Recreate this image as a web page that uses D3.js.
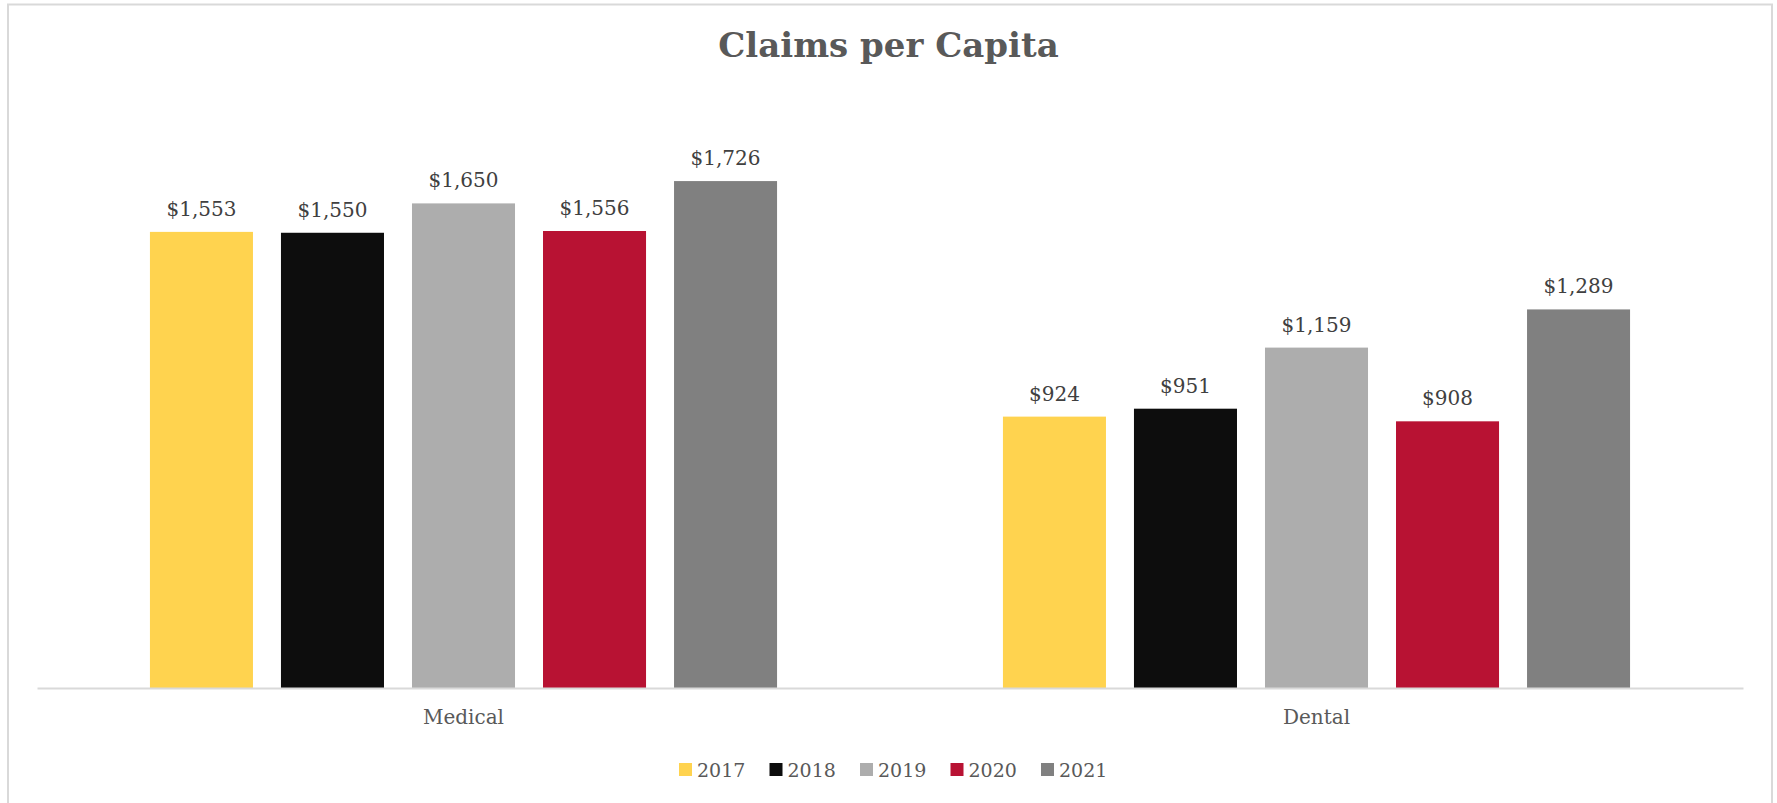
<!DOCTYPE html>
<html>
<head>
<meta charset="utf-8">
<script src="https://cdn.jsdelivr.net/npm/d3@7"></script>
<style>
  html, body { margin: 0; padding: 0; background: #fff; }
  svg { display: block; font-family: Georgia, "DejaVu Serif", "Liberation Serif", serif; }
</style>
</head>
<body>
<svg id="chart"></svg>
<script>
const categories = ["Medical", "Dental"];
const years = ["2017", "2018", "2019", "2020", "2021"];
const medical = [1553, 1550, 1650, 1556, 1726];
const dental = [924, 951, 1159, 908, 1289];
const colors = ["#ffd34f", "#0d0d0d", "#adadad", "#b81233", "#808080"];

const width = 1777;
const height = 803;
const plot = {left: 37, right: 1743, top: 100.6, bottom: 688};

const rows = categories.map((c, i) => ({
  category: c,
  values: years.map((y, j) => ({year: y, value: [medical, dental][i][j]}))
}));

const svg = d3.select("#chart")
  .attr("width", width)
  .attr("height", height);

// chart frame
svg.append("rect")
  .attr("x", 8)
  .attr("y", 4.5)
  .attr("width", 1764)
  .attr("height", 820)
  .attr("fill", "#fff")
  .attr("stroke", "#d9d9d9")
  .attr("stroke-width", 2);

svg.append("text")
  .attr("x", width / 2)
  .attr("y", 57)
  .attr("text-anchor", "middle")
  .attr("font-size", 34)
  .attr("font-weight", "bold")
  .attr("fill", "#595959")
  .text("Claims per Capita");

const x0 = d3.scaleBand()
  .domain(categories)
  .range([plot.left, plot.right]);

const x1 = d3.scaleBand()
  .domain(years)
  .range([0, x0.bandwidth()])
  .paddingInner(0.2137)
  .paddingOuter(0.862);

const y = d3.scaleLinear()
  .domain([0, 2000])
  .range([plot.bottom, plot.top]);

const color = d3.scaleOrdinal()
  .domain(years)
  .range(colors);

const fmt = d3.format("$,");

const groups = svg.selectAll(".group")
  .data(rows)
  .join("g")
    .attr("class", "group")
    .attr("transform", d => `translate(${x0(d.category)},0)`);

groups.selectAll("rect")
  .data(d => d.values)
  .join("rect")
    .attr("x", d => x1(d.year))
    .attr("y", d => y(d.value))
    .attr("width", x1.bandwidth())
    .attr("height", d => y(0) - y(d.value))
    .attr("fill", d => color(d.year));

groups.selectAll("text")
  .data(d => d.values)
  .join("text")
    .attr("x", d => x1(d.year) + x1.bandwidth() / 2)
    .attr("y", d => y(d.value) - 16)
    .attr("text-anchor", "middle")
    .attr("font-size", 20)
    .attr("fill", "#404040")
    .text(d => fmt(d.value));

// baseline
const xAxis = svg.append("g")
  .attr("transform", `translate(0,${plot.bottom})`)
  .call(d3.axisBottom(x0).tickSize(0).tickPadding(22))
  .attr("font-family", null)
  .attr("font-size", null);

xAxis.select(".domain")
  .attr("stroke", "#d9d9d9")
  .attr("stroke-width", 2);

xAxis.selectAll("text")
  .attr("font-size", 20)
  .attr("fill", "#595959");

// legend
const legendX = 679;
const legendStep = 90.5;
const legend = svg.append("g")
  .selectAll("g")
  .data(years)
  .join("g")
    .attr("transform", (d, i) => `translate(${legendX + i * legendStep},763)`);

legend.append("rect")
  .attr("width", 13)
  .attr("height", 13)
  .attr("fill", d => color(d));

legend.append("text")
  .attr("x", 18)
  .attr("y", 14)
  .attr("font-size", 19)
  .attr("fill", "#595959")
  .text(d => d);
</script>
</body>
</html>
